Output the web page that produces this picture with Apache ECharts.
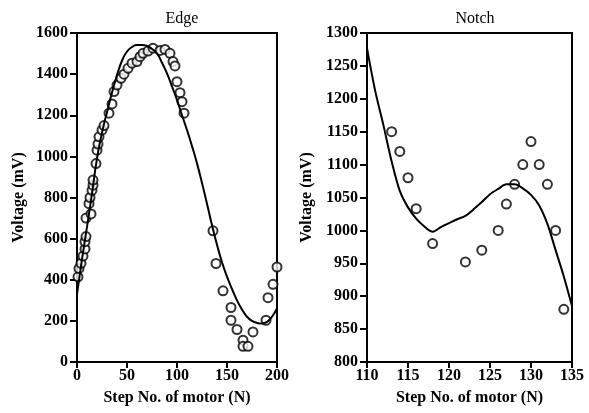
<!DOCTYPE html>
<html><head><meta charset="utf-8">
<script src="https://cdn.jsdelivr.net/npm/echarts@6/dist/echarts.min.js"></script>
<style>html,body{margin:0;padding:0;background:#fff}#c{width:589px;height:413px}</style>
</head><body><div id="c"></div>
<script>
// Edge panel: measured points [step, mV]
var edgePoints = [[1,414],[2,455],[4,480],[6,515],[8,550],[8,585],[9,610],[9,700],[14,720],[12,770],[13,800],[15,835],[16,860],[16,885],[19,965],[20,1030],[21,1060],[22,1095],[25,1128],[27,1150],[32,1210],[35,1255],[37,1315],[40,1347],[44,1380],[47,1400],[51,1428],[55,1453],[60,1461],[63,1485],[66,1501],[71,1512],[76,1526],[83,1515],[88,1520],[93,1501],[96,1461],[98,1440],[100,1363],[103,1310],[105,1266],[107,1210],[136,638],[139,479],[146,346],[154,265],[154,203],[160,158],[166,106],[166,76],[171,76],[176,146],[189,203],[191,313],[196,378],[200,462]];
// Edge panel: fitted curve
var edgeFitX = [0,5,10,15,20,25,30,35,40,45,50,55,60,65,70,75,80,85,90,95,100,105,110,115,120,125,130,135,140,145,150,155,160,165,170,175,180,185,190,195,200];
var edgeFitY = [330,500,657,820,990,1115,1215,1310,1395,1465,1510,1532,1542,1542,1537,1522,1501,1455,1404,1340,1274,1200,1128,1050,966,870,770,665,570,485,415,355,300,255,220,200,190,187,195,220,260];
// Notch panel: measured points
var notchX = [113,114,115,116,118,122,124,126,127,128,129,130,131,132,133,134];
var notchY = [1150,1120,1080,1033,980,952,970,1000,1040,1070,1100,1135,1100,1070,1000,880];
// Notch panel: fitted curve
var notchFitX = [110,111,112,113,114,115,116,117,118,119,120,121,122,123,124,125,126,127,128,129,130,131,132,133,134,135];
var notchFitY = [1277,1212,1160,1105,1060,1035,1018,1006,998,1005,1011,1017,1022,1032,1043,1055,1063,1070,1070,1064,1054,1038,1010,970,930,885];
// ticks
var edgeXTicks = {min:0,max:200,interval:50};
var edgeYTicks = {min:0,max:1600,interval:200};
var notchXTicks = {min:110,max:135,interval:5};
var notchYTicks = {min:800,max:1300,interval:50};

function zip(a,b){return a.map(function(v,i){return [v,b[i]];});}
var FONT = 'Liberation Serif';
function lab(m){return {margin:m,color:'#000',fontFamily:FONT,fontWeight:'bold',fontSize:16,formatter:function(v){return String(v);}};}
var nameStyle = {color:'#000',fontFamily:FONT,fontWeight:'bold',fontSize:16};
function xAx(i,t){return {gridIndex:i,type:'value',min:t.min,max:t.max,interval:t.interval,
  name:'Step No. of motor (N)',nameLocation:'middle',nameGap:28,nameTextStyle:nameStyle,
  axisLine:{lineStyle:{color:'#000',width:2}},axisTick:{length:6,lineStyle:{color:'#000',width:2}},
  axisLabel:lab(6),splitLine:{show:false}};}
function yAx(i,t,gap){return {gridIndex:i,type:'value',min:t.min,max:t.max,interval:t.interval,
  name:'Voltage (mV)',nameLocation:'middle',nameGap:gap,nameTextStyle:nameStyle,
  axisLine:{show:true,lineStyle:{color:'#000',width:2}},axisTick:{show:true,length:7,lineStyle:{color:'#000',width:2}},
  axisLabel:lab(9),splitLine:{show:false}};}

var chart = echarts.init(document.getElementById('c'));
chart.setOption({
  animation:false,
  backgroundColor:'#fff',
  title:[
    {text:'Edge',left:177,top:6,textAlign:'center',textStyle:{color:'#000',fontFamily:FONT,fontWeight:'normal',fontSize:16}},
    {text:'Notch',left:470,top:6,textAlign:'center',textStyle:{color:'#000',fontFamily:FONT,fontWeight:'normal',fontSize:16}}
  ],
  grid:[
    {left:77,top:33,width:200,height:329,show:true,borderColor:'#000',borderWidth:2},
    {left:367,top:33,width:205,height:329,show:true,borderColor:'#000',borderWidth:2}
  ],
  xAxis:[xAx(0,edgeXTicks),xAx(1,notchXTicks)],
  yAxis:[yAx(0,edgeYTicks,50),yAx(1,notchYTicks,52)],
  series:[
    {type:'scatter',xAxisIndex:0,yAxisIndex:0,data:edgePoints,symbol:'circle',symbolSize:9,
      itemStyle:{color:'#fff',borderColor:'#000',borderWidth:2}},
    {type:'line',xAxisIndex:0,yAxisIndex:0,data:zip(edgeFitX,edgeFitY),smooth:true,showSymbol:false,
      lineStyle:{color:'#000',width:2}},
    {type:'scatter',xAxisIndex:1,yAxisIndex:1,data:zip(notchX,notchY),symbol:'circle',symbolSize:9,
      itemStyle:{color:'#fff',borderColor:'#000',borderWidth:2}},
    {type:'line',xAxisIndex:1,yAxisIndex:1,data:zip(notchFitX,notchFitY),smooth:0.3,showSymbol:false,
      lineStyle:{color:'#000',width:2}}
  ]
});
</script></body></html>
